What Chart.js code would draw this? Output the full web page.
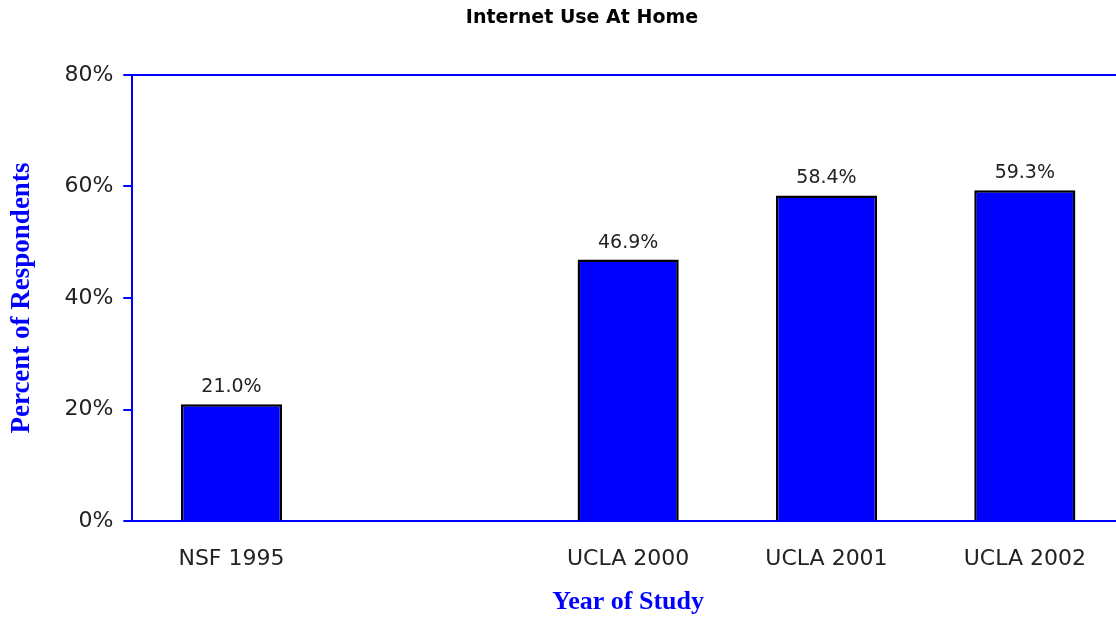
<!DOCTYPE html>
<html>
<head>
<meta charset="utf-8">
<script src="https://cdn.jsdelivr.net/npm/chart.js@4"></script>
<style>
  html, body { margin: 0; padding: 0; background: #fff; overflow: hidden; }
  #wrap { width: 1164px; height: 618px; position: relative; }
</style>
</head>
<body>
<div id="wrap"><canvas id="bar-chart"></canvas></div>
<script>
const categories = ['NSF 1995', '', 'UCLA 2000', 'UCLA 2001', 'UCLA 2002'];
const homeUse = [21.0, null, 46.9, 58.4, 59.3];
const yTicks = [0, 20, 40, 60, 80];

const BLUE = '#0000ff';

// value labels above bars
const valueLabels = {
	id: 'valueLabels',
	afterDatasetsDraw(chart) {
		const ctx = chart.ctx;
		const meta = chart.getDatasetMeta(0);
		ctx.save();
		ctx.font = '19px "DejaVu Sans"';
		ctx.fillStyle = '#222';
		ctx.textAlign = 'center';
		ctx.textBaseline = 'middle';
		meta.data.forEach((bar, i) => {
			const v = homeUse[i];
			if (v === null) return;
			ctx.fillText(v.toFixed(1) + '%', bar.x, bar.y - 17);
		});
		ctx.restore();
	}
};

let chart = new Chart(document.getElementById('bar-chart'), {
	type: 'bar',
	data: {
		labels: categories,
		datasets: [{
			data: homeUse,
			backgroundColor: BLUE,
			borderColor: '#000',
			borderWidth: 2.5,
			borderSkipped: 'bottom',
			barPercentage: 0.51,
			categoryPercentage: 1.0
		}]
	},
	options: {
		responsive: true,
		maintainAspectRatio: false,
		animation: false,
		layout: { padding: 0 },
		plugins: {
			legend: { display: false },
			tooltip: { enabled: false },
			title: {
				display: true,
				text: 'Internet Use At Home',
				color: '#000',
				font: { family: '"DejaVu Sans"', size: 19, weight: 'bold' },
				padding: { top: 7, bottom: 45 }
			}
		},
		scales: {
			x: {
				grid: { display: true, color: 'transparent', drawTicks: false },
				border: { display: true, color: BLUE, width: 2 },
				ticks: {
					color: '#222',
					font: { family: '"DejaVu Sans"', size: 22 },
					padding: 25,
					maxRotation: 0,
					autoSkip: false
				},
				title: {
					display: true,
					text: 'Year of Study',
					color: BLUE,
					font: { family: '"Liberation Serif"', size: 26, weight: 'bold' },
					padding: { top: -11, bottom: 0 }
				}
			},
			y: {
				min: 0,
				max: 80,
				afterBuildTicks(scale) {
					scale.ticks = yTicks.map(v => ({ value: v }));
				},
				grid: {
					color: ctx => (ctx.tick && ctx.tick.value === 80) ? BLUE : 'transparent',
					lineWidth: 2,
					tickColor: BLUE,
					tickLength: 9,
					tickWidth: 2
				},
				border: { display: true, color: BLUE, width: 2 },
				ticks: {
					color: '#222',
					font: { family: '"DejaVu Sans"', size: 22 },
					padding: 10,
					callback: v => v + '%'
				},
				title: {
					display: true,
					text: 'Percent of Respondents',
					color: BLUE,
					font: { family: '"Liberation Serif"', size: 27, weight: 'bold' },
					padding: { top: 6, bottom: 16 }
				}
			},
			// empty right axis keeps the plot edge where the original had it
			yRight: {
				position: 'right',
				display: true,
				grid: { display: false },
				border: { display: false },
				ticks: { display: false },
				afterFit(scale) { scale.width = 40; }
			}
		}
	},
	plugins: [valueLabels]
});
</script>
</body>
</html>
